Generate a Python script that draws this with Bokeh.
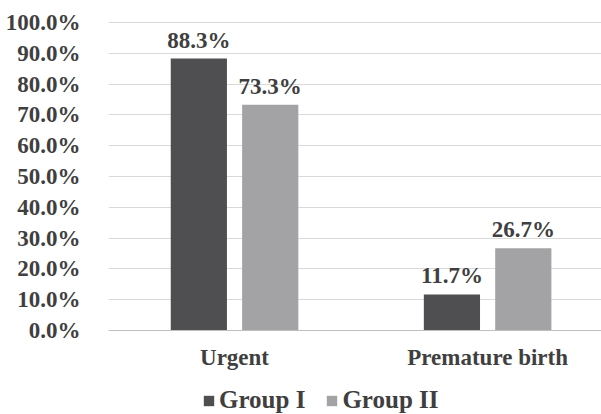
from bokeh.plotting import figure
from bokeh.models import ColumnDataSource, FixedTicker, NumeralTickFormatter, Legend, LegendItem, LabelSet, Span
from bokeh.core.properties import value
from bokeh.embed import file_html
from bokeh.resources import INLINE

categories = ["Urgent", "Premature birth"]
group1 = [0.883, 0.117]
group2 = [0.733, 0.267]
group_names = ["Group I", "Group II"]
y_ticks = [0.0, 0.1, 0.2, 0.3, 0.4, 0.5, 0.6, 0.7, 0.8, 0.9, 1.0]

FONT = "Liberation Serif"
TEXT = "#3f3f3f"
DARK = "#4f4f51"
LIGHT = "#a3a3a5"
FS = "23px"

xc = [i + 0.5 for i in range(len(categories))]
off = 0.141
bw = 0.222

src1 = ColumnDataSource(dict(x=[v - off for v in xc], y=group1,
                             lab=[f"{v*100:.1f}%" for v in group1]))
src2 = ColumnDataSource(dict(x=[v + off for v in xc], y=group2,
                             lab=[f"{v*100:.1f}%" for v in group2]))
srcc = ColumnDataSource(dict(x=xc, y=[0.0] * len(xc), t=categories))

p = figure(width=601, height=414, output_backend="svg", toolbar_location=None,
           x_range=(0.002, 1.95), y_range=(-0.2727, 1.0065),
           min_border_left=108, min_border_right=0, min_border_top=20, min_border_bottom=0)
p.outline_line_color = None
p.background_fill_color = "white"

r1 = p.vbar(x="x", top="y", width=bw, source=src1, fill_color=DARK, line_color=None)
r2 = p.vbar(x="x", top="y", width=bw, source=src2, fill_color=LIGHT, line_color=None)

for s in (src1, src2):
    p.add_layout(LabelSet(x="x", y="y", text="lab", source=s, text_align="center",
                          text_baseline="bottom", y_offset=6, text_font=FONT,
                          text_font_style="bold", text_font_size=FS, text_color=TEXT))

# category labels under the baseline
p.text(x="x", y="y", text="t", source=srcc, text_align="center", text_baseline="middle",
       y_offset=27, text_font=value(FONT), text_font_style="bold",
       text_font_size=FS, text_color=TEXT)

p.add_layout(Span(location=0, dimension="width", line_color="#bfbfbf", line_width=1.2))

p.xgrid.visible = False
p.xaxis.visible = False
p.ygrid.grid_line_color = "#d9d9d9"
p.ygrid.grid_line_width = 1.2

p.yaxis.ticker = FixedTicker(ticks=y_ticks)
p.ygrid.ticker = FixedTicker(ticks=y_ticks)
p.yaxis.formatter = NumeralTickFormatter(format="0.0%")
p.yaxis.axis_line_color = None
p.yaxis.major_tick_line_color = None
p.yaxis.minor_tick_line_color = None
p.yaxis.major_label_standoff = 22
p.yaxis.major_label_text_font = FONT
p.yaxis.major_label_text_font_style = "bold"
p.yaxis.major_label_text_font_size = FS
p.yaxis.major_label_text_color = TEXT

legend = Legend(items=[LegendItem(label=group_names[0], renderers=[r1]),
                       LegendItem(label=group_names[1], renderers=[r2])],
                orientation="horizontal", location=(94, 0),
                label_text_font=FONT, label_text_font_style="bold",
                label_text_font_size="25px", label_text_color=TEXT,
                glyph_width=13, glyph_height=13, spacing=20, label_standoff=4,
                border_line_color=None, background_fill_alpha=0, padding=0, margin=0)
p.add_layout(legend, "center")

open("out.html", "w").write(file_html(p, INLINE))
